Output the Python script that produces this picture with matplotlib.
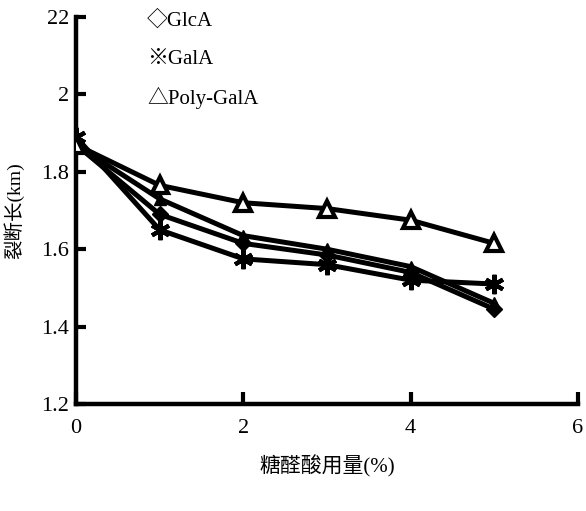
import matplotlib
matplotlib.use("Agg")
import matplotlib.pyplot as plt

plt.rcParams['font.family'] = ['Liberation Serif', 'Noto Sans CJK SC', 'DejaVu Sans']

dose = [0, 1, 2, 3, 4, 5]
glca = [1.87, 1.69, 1.615, 1.585, 1.54, 1.445]
gala = [1.89, 1.65, 1.575, 1.56, 1.52, 1.51]
poly_gala = [1.87, 1.765, 1.72, 1.705, 1.675, 1.615]
extra = [1.87, 1.73, 1.635, 1.60, 1.555, 1.46]

yticks = [1.2, 1.4, 1.6, 1.8, 2.0, 2.2]
ytick_labels = ['1.2', '1.4', '1.6', '1.8', '2', '22']
xticks = [0, 2, 4, 6]
xtick_labels = ['0', '2', '4', '6']
legend_labels = ['◇GlcA', '※GalA', '△Poly-GalA']

fig = plt.figure(figsize=(5.86, 5.11), dpi=100)
ax = fig.add_axes([76/586, 1 - 404/511, (578-76)/586, (404-17)/511])

lw = 3.6
ax.plot(dose, extra, color='black', lw=lw, marker='^', ms=8, mfc='black', mec='black', zorder=3)
ax.plot(dose, glca, color='black', lw=lw, marker='D', ms=8, mfc='black', mec='black', zorder=3)
ax.plot(dose, gala, color='black', lw=lw, marker=(6, 2, 0), ms=14, mew=3, mec='black', zorder=4)
ax.plot(dose, poly_gala, color='black', lw=lw, marker='^', ms=11, mfc='white', mec='black', mew=3, zorder=4)

ax.set_xlim(0, 6)
ax.set_ylim(1.2, 2.2)
ax.set_xticks(xticks)
ax.set_xticklabels(xtick_labels)
ax.set_yticks(yticks)
ax.set_yticklabels(ytick_labels)
for s in ['top', 'right']:
    ax.spines[s].set_visible(False)
for s in ['left', 'bottom']:
    ax.spines[s].set_linewidth(3.2)
ax.tick_params(direction='in', length=7, width=3, labelsize=16)
ax.tick_params(axis='x', length=9, pad=11)
ax.tick_params(axis='y', pad=5)

ax.set_ylabel('裂断长(km)', fontsize=14, labelpad=12)
ax.set_xlabel('糖醛酸用量(%)', fontsize=15, labelpad=12)

for i, lab in enumerate(legend_labels):
    ax.text(0.85, 2.19 - i * 0.1, lab, fontsize=15, va='center', ha='left',
            family=['Liberation Serif', 'Noto Sans CJK SC'])

fig.savefig('out.png', dpi=100)
